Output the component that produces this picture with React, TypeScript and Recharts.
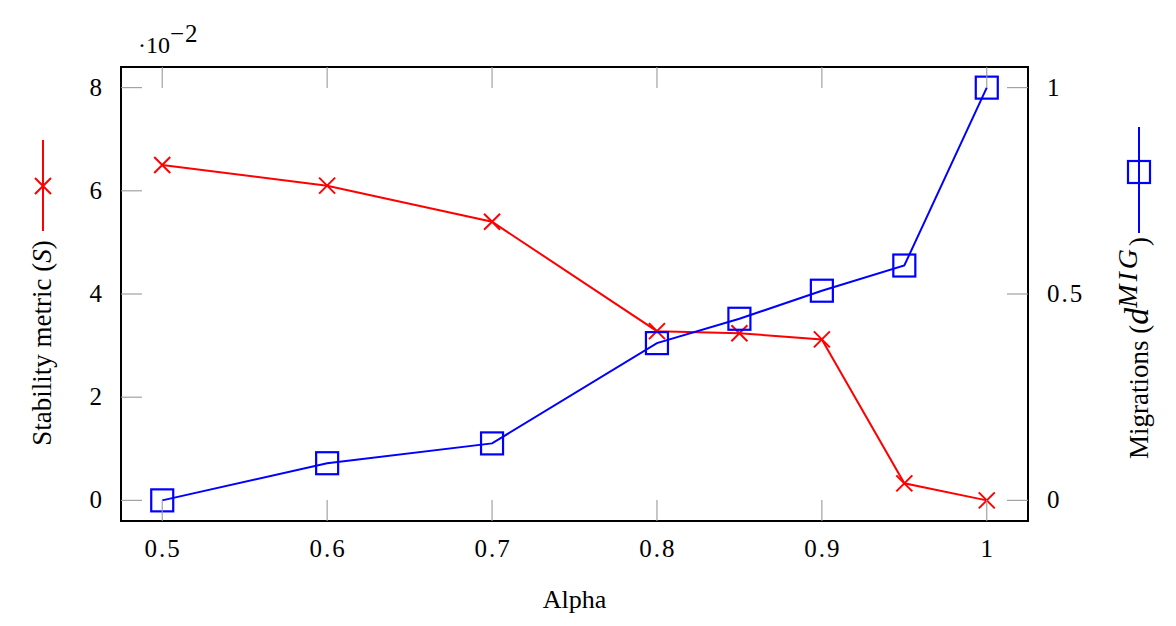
import React from 'react';
import { LineChart, Line, XAxis, YAxis, ReferenceArea } from 'recharts';

const alpha = [0.5, 0.6, 0.7, 0.8, 0.85, 0.9, 0.95, 1.0];
const stability = [6.5, 6.1, 5.4, 3.28, 3.24, 3.12, 0.33, 0];
const migrations = [0, 0.09, 0.138, 0.381, 0.44, 0.508, 0.569, 1.0];
const xTicks = [0.5, 0.6, 0.7, 0.8, 0.9, 1];
const leftTicks = [0, 2, 4, 6, 8];
const rightTicks = [0, 0.5, 1];

const xDomain = [0.475, 1.025];
const leftDomain = [-0.4, 8.4];
const rightDomain = [-0.05, 1.05];

const data = alpha.map((a, i) => ({ alpha: a, s: stability[i], m: migrations[i] }));

const FONT = "'Liberation Serif', 'DejaVu Serif', serif";
const TICK_GRAY = '#9a9a9a';
const TICK_LEN = 21;
const RED = '#ff0000';
const BLUE = '#0000ff';

const fmt = (v: number) => String(v);

const BottomTick = (p: any) => {
  const { x, y, payload } = p;
  return (
    <g>
      <line x1={x} y1={y} x2={x} y2={y - TICK_LEN} stroke={TICK_GRAY} strokeWidth={1.1} />
      <text x={x + 1} y={y + 36} textAnchor="middle" fontFamily={FONT} fontSize={25} letterSpacing={2} fill="#000">
        {fmt(payload.value)}
      </text>
    </g>
  );
};

const TopTick = (p: any) => {
  const { x, y } = p;
  return <line x1={x} y1={y} x2={x} y2={y + TICK_LEN} stroke={TICK_GRAY} strokeWidth={1.1} />;
};

const LeftTick = (p: any) => {
  const { x, y, payload } = p;
  return (
    <g>
      <line x1={x} y1={y} x2={x + TICK_LEN} y2={y} stroke={TICK_GRAY} strokeWidth={1.1} />
      <text x={x - 17} y={y + 8} textAnchor="end" fontFamily={FONT} fontSize={25} letterSpacing={2} fill="#000">
        {fmt(payload.value)}
      </text>
    </g>
  );
};

const RightTick = (p: any) => {
  const { x, y, payload } = p;
  return (
    <g>
      <line x1={x} y1={y} x2={x - TICK_LEN} y2={y} stroke={TICK_GRAY} strokeWidth={1.1} />
      <text x={x + 19} y={y + 8} textAnchor="start" fontFamily={FONT} fontSize={25} letterSpacing={2} fill="#000">
        {fmt(payload.value)}
      </text>
    </g>
  );
};

const CrossDot = (p: any) => {
  const { cx, cy, index } = p;
  const r = 8;
  return (
    <path
      key={`c-${index}`}
      d={`M${cx - r},${cy - r}L${cx + r},${cy + r}M${cx - r},${cy + r}L${cx + r},${cy - r}`}
      stroke={RED}
      strokeWidth={2}
      fill="none"
    />
  );
};

const SquareDot = (p: any) => {
  const { cx, cy, index } = p;
  const r = 11;
  return <rect key={`q-${index}`} x={cx - r} y={cy - r} width={2 * r} height={2 * r} stroke={BLUE} strokeWidth={2.2} fill="none" />;
};

const LeftLabel = (p: any) => {
  const vb = p.viewBox || { x: 0, y: 59, width: 113, height: 454 };
  const tx = vb.x + 43;
  const ty = vb.y + 276;
  const lx = vb.x + 35;
  const y1 = vb.y + 73;
  const y2 = vb.y + 164;
  const my = vb.y + 119;
  const r = 8;
  return (
    <g>
      <text
        x={tx}
        y={ty}
        transform={`rotate(-90 ${tx} ${ty})`}
        textAnchor="middle"
        fontFamily={FONT}
        fontSize={27}
        fill="#000"
      >
        Stability metric (<tspan fontStyle="italic">S</tspan>)
      </text>
      <line x1={lx} y1={y1} x2={lx} y2={y2} stroke={RED} strokeWidth={2} />
      <path d={`M${lx - r},${my - r}L${lx + r},${my + r}M${lx - r},${my + r}L${lx + r},${my - r}`} stroke={RED} strokeWidth={2} fill="none" />
      <text x={vb.x + 130} y={vb.y - 14} fontFamily={FONT} fontSize={24} fill="#000">
        ·10
        <tspan dy={-11} fontSize={25} letterSpacing={1}>−2</tspan>
      </text>
    </g>
  );
};

const RightLabel = (p: any) => {
  const vb = p.viewBox || { x: 1020, y: 59, width: 140, height: 454 };
  const tx = vb.x + 120;
  const ty = vb.y + 281;
  const lx = vb.x + 111;
  const y1 = vb.y + 60;
  const y2 = vb.y + 166;
  const my = vb.y + 105;
  const r = 11;
  return (
    <g>
      <text
        x={tx}
        y={ty}
        transform={`rotate(-90 ${tx} ${ty})`}
        textAnchor="middle"
        fontFamily={FONT}
        fontSize={27}
        fill="#000"
      >
        Migrations (
        <tspan fontStyle="italic" fontSize={34}>d</tspan>
        <tspan fontStyle="italic" fontSize={28} dy={-11} letterSpacing={3}>MIG</tspan>
        <tspan dy={11}>)</tspan>
      </text>
      <line x1={lx} y1={y1} x2={lx} y2={y2} stroke={BLUE} strokeWidth={2} />
      <rect x={lx - r} y={my - r} width={2 * r} height={2 * r} stroke={BLUE} strokeWidth={2.2} fill="none" />
    </g>
  );
};

const BottomLabel = (p: any) => {
  const vb = p.viewBox || { x: 113, y: 513, width: 907, height: 97 };
  return (
    <text x={vb.x + vb.width / 2} y={vb.y + 87} textAnchor="middle" fontFamily={FONT} fontSize={26} fill="#000">
      Alpha
    </text>
  );
};

export default function App() {
  return (
    <div style={{ width: 1160, height: 610, fontFamily: FONT }}>
      <LineChart width={1160} height={610} data={data} margin={{ top: 58, right: 0, bottom: 0, left: 0 }}>
        <XAxis
          xAxisId="bottom"
          dataKey="alpha"
          type="number"
          domain={xDomain}
          ticks={xTicks}
          allowDataOverflow
          height={97}
          tickSize={0}
          tickMargin={0}
          tickLine={false}
          axisLine={false}
          tick={BottomTick}
          interval={0}
          label={{ content: BottomLabel } as any}
        />
        <XAxis
          xAxisId="top"
          orientation="top"
          dataKey="alpha"
          type="number"
          domain={xDomain}
          ticks={xTicks}
          allowDataOverflow
          height={1}
          tickSize={0}
          tickMargin={0}
          tickLine={false}
          axisLine={false}
          tick={TopTick}
          interval={0}
        />
        <YAxis
          yAxisId="left"
          orientation="left"
          type="number"
          domain={leftDomain}
          ticks={leftTicks}
          allowDataOverflow
          width={113}
          tickSize={0}
          tickMargin={0}
          tickLine={false}
          axisLine={false}
          tick={LeftTick}
          interval={0}
          label={{ content: LeftLabel } as any}
        />
        <YAxis
          yAxisId="right"
          orientation="right"
          type="number"
          domain={rightDomain}
          ticks={rightTicks}
          allowDataOverflow
          width={140}
          tickSize={0}
          tickMargin={0}
          tickLine={false}
          axisLine={false}
          tick={RightTick}
          interval={0}
          label={{ content: RightLabel } as any}
        />
        <ReferenceArea
          xAxisId="bottom"
          yAxisId="left"
          x1={xDomain[0]}
          x2={xDomain[1]}
          y1={leftDomain[0]}
          y2={leftDomain[1]}
          fill="none"
          fillOpacity={0}
          stroke="#000"
          strokeWidth={2}
          ifOverflow="visible"
        />
        <Line
          xAxisId="bottom"
          yAxisId="left"
          dataKey="s"
          type="linear"
          stroke={RED}
          strokeWidth={2}
          dot={CrossDot}
          activeDot={false}
          isAnimationActive={false}
        />
        <Line
          xAxisId="bottom"
          yAxisId="right"
          dataKey="m"
          type="linear"
          stroke={BLUE}
          strokeWidth={2}
          dot={SquareDot}
          activeDot={false}
          isAnimationActive={false}
        />
      </LineChart>
    </div>
  );
}
